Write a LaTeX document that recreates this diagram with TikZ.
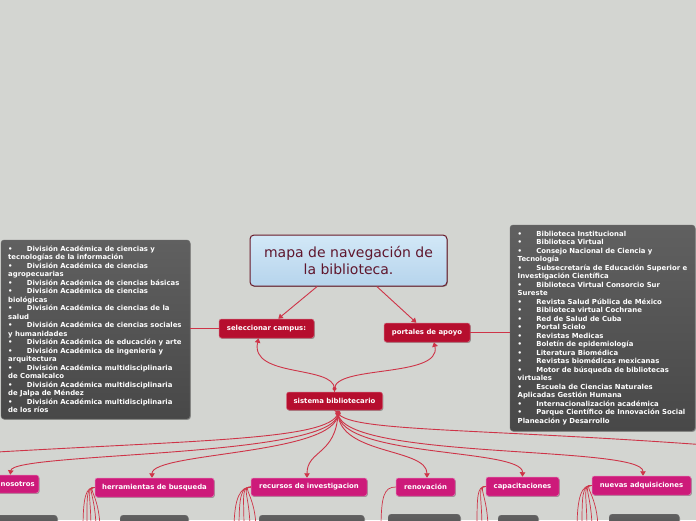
\documentclass[tikz,border=0pt]{standalone}
\usepackage{fontspec}
\setmainfont{DejaVu Sans}
\usetikzlibrary{arrows.meta,shadows,calc}
\definecolor{bgc}{RGB}{211,213,209}
\definecolor{crim}{RGB}{182,14,46}
\definecolor{magc}{RGB}{205,26,122}
\definecolor{linkc}{RGB}{206,52,72}
\definecolor{darktop}{RGB}{96,96,96}
\definecolor{darkbot}{RGB}{72,72,72}
\definecolor{tittop}{RGB}{210,232,247}
\definecolor{titbot}{RGB}{182,212,236}
\definecolor{titline}{RGB}{105,25,40}
\definecolor{tittext}{RGB}{95,22,45}
\newcommand{\mybul}{\makebox[18.7pt][l]{•}}
\tikzset{
  shad/.style={drop shadow={shadow xshift=0.8pt, shadow yshift=-0.9pt, opacity=0.3, fill=black}},
  lab/.style={shad, rounded corners=2.5pt, text=white, font=\fontsize{6.9}{8}\selectfont\bfseries, inner sep=0pt},
  crimbox/.style={lab, fill=crim, draw=crim!65!white, line width=0.5pt},
  magbox/.style={lab, fill=magc, draw=magc!60!white, line width=0.5pt},
  darkbox/.style={shad, rounded corners=3pt, top color=darktop, bottom color=darkbot, draw=darkbot!80!white, line width=0.4pt},
  boxtext/.style={inner sep=0pt, align=left, text=white, font=\fontsize{6.9}{8.5}\selectfont\bfseries},
  conn/.style={draw=linkc, line width=0.9pt},
  tip/.style={-{Triangle[width=5.5pt,length=4.5pt]}},
  titlebox/.style={shad, rounded corners=4pt, top color=tittop, bottom color=titbot, draw=titline, line width=1pt, text=tittext, align=center, font=\fontsize{14}{17}\selectfont}
}
\begin{document}
\begin{tikzpicture}[x=1pt,y=-1pt]
\fill[bgc] (0,0) rectangle (696,520);
\useasboundingbox (0,0) rectangle (696,520);
\clip (0,0) rectangle (696,520);

% bottom fragments of dark boxes
\node[darkbox, anchor=north west, minimum width=67pt, minimum height=30pt] (bb1) at (-10,515) {};
\node[darkbox, anchor=north west, minimum width=68pt, minimum height=30pt] (bb2) at (120,515) {};
\node[darkbox, anchor=north west, minimum width=105pt, minimum height=30pt] (bb3) at (259,515) {};
\node[darkbox, anchor=north west, minimum width=72pt, minimum height=30pt] (bb4) at (388,514) {};
\node[darkbox, anchor=north west, minimum width=40pt, minimum height=30pt] (bb5) at (498,515) {};
\node[darkbox, anchor=north west, minimum width=70pt, minimum height=30pt] (bb6) at (609,514) {};

% main nodes
\node[titlebox, minimum width=197pt, minimum height=51pt] (title) at (348.5,260.5) {mapa de navegación de\\la biblioteca.};
\node[crimbox, minimum width=95pt, minimum height=19pt] (sel) at (266.5,328.5) {seleccionar campus:};
\node[crimbox, minimum width=86pt, minimum height=19pt] (port) at (427,332.5) {portales de apoyo};
\node[crimbox, minimum width=96pt, minimum height=18pt] (sis) at (334.5,401) {sistema bibliotecario};

\node[magbox, anchor=east, inner xsep=4pt, minimum height=18pt] (nos) at (39,484) {\hspace{1pt}nosotros};
\node[magbox, minimum width=119pt, minimum height=19pt] (herr) at (154.5,487.5) {herramientas de busqueda};
\node[magbox, minimum width=116pt, minimum height=18pt] (rec) at (309,487) {recursos de investigacion};
\node[magbox, minimum width=59pt, minimum height=18pt] (ren) at (425.5,487) {renovación};
\node[magbox, minimum width=73pt, minimum height=19pt] (cap) at (522.5,486.5) {capacitaciones};
\node[magbox, minimum width=99pt, minimum height=19pt] (nue) at (641.5,485.5) {nuevas adquisiciones};

% dark list boxes
\node[darkbox, minimum width=189pt, minimum height=179pt] (lbox) at (95.5,329.5) {};
\node[boxtext, anchor=west] (ltext) at (8,329.5) {%
\mybul División Académica de ciencias y\\
tecnologías de la información\\
\mybul División Académica de ciencias\\
agropecuarias\\
\mybul División Académica de ciencias básicas\\
\mybul División Académica de ciencias\\
biológicas\\
\mybul División Académica de ciencias de la\\
salud\\
\mybul División Académica de ciencias sociales\\
y humanidades\\
\mybul División Académica de educación y arte\\
\mybul División Académica de ingeniería y\\
arquitectura\\
\mybul División Académica multidisciplinaria\\
de Comalcalco\\
\mybul División Académica multidisciplinaria\\
de Jalpa de Méndez\\
\mybul División Académica multidisciplinaria\\
de los ríos};

\node[darkbox, minimum width=185pt, minimum height=206pt] (rbox) at (602.5,328) {};
\node[boxtext, anchor=west] (rtext) at (517.5,328) {%
\mybul Biblioteca Institucional\\
\mybul Biblioteca Virtual\\
\mybul Consejo Nacional de Ciencia y\\
Tecnología\\
\mybul Subsecretaría de Educación Superior e\\
Investigación Científica\\
\mybul Biblioteca Virtual Consorcio Sur\\
Sureste\\
\mybul Revista Salud Pública de México\\
\mybul Biblioteca virtual Cochrane\\
\mybul Red de Salud de Cuba\\
\mybul Portal Scielo\\
\mybul Revistas Medicas\\
\mybul Boletín de epidemiología\\
\mybul Literatura Biomédica\\
\mybul Revistas biomédicas mexicanas\\
\mybul Motor de búsqueda de bibliotecas\\
virtuales\\
\mybul Escuela de Ciencias Naturales\\
Aplicadas Gestión Humana\\
\mybul Internacionalización académica\\
\mybul Parque Científico de Innovación Social\\
Planeación y Desarrollo};

% connectors
\draw[conn, line width=0.7pt] (sel.west) -- (sel.west -| lbox.east);
\draw[conn, line width=0.7pt] (port.east) -- (port.east -| rbox.west);
\draw[conn, tip] (title) -- (sel);
\draw[conn, tip] (title) -- (port);

\coordinate (sisT) at ($(sis.north)+(0,-3)$);
\coordinate (fan) at ($(sis.south)+(3.5,3)$);
\draw[conn] (sis.north) -- (sisT);
\draw[conn] (sis.south) -- (fan);
\draw[conn, tip] (sisT) .. controls (334,365) and (250,378) .. ([xshift=-8pt]sel.south);
\draw[conn, tip] (sisT) .. controls (335,365) and (442,378) .. ([xshift=7pt]port.south);
\fill[linkc] (sisT) circle (2pt);

\coordinate (offL) at (-20,453);
\coordinate (offR) at (720,446);
\draw[conn] (fan) .. controls (330,440) and (200,440) .. (offL);
\draw[conn] (fan) .. controls (350,432) and (480,428) .. (offR);
\draw[conn, tip] (fan) .. controls (338,458) and (13,452) .. ([xshift=-7pt]nos.north);
\draw[conn, tip] (fan) .. controls (338,455) and (152,452) .. ([xshift=-2.5pt]herr.north);
\draw[conn, tip] (fan) .. controls (336,455) and (307,450) .. ([xshift=-2pt]rec.north);
\draw[conn, tip] (fan) .. controls (340,455) and (427,448) .. ([xshift=1.5pt]ren.north);
\draw[conn, tip] (fan) .. controls (340,458) and (523,448) .. (cap.north);
\draw[conn, tip] (fan) .. controls (342,460) and (643,445) .. ([xshift=1.5pt]nue.north);
\fill[linkc] (fan) circle (2.8pt);

% child connectors going down to the lower row
\foreach \i/\x in {1/83,2/87,3/91,4/96,5/100}{
  \coordinate (hc\i) at (\x,530);
  \draw[conn, line width=0.7pt] (herr.west) .. controls (86,487) and (\x,496) .. (hc\i);
}
\foreach \i/\x in {1/234,2/239,3/244,4/250,5/256}{
  \coordinate (rc\i) at (\x,530);
  \draw[conn, line width=0.7pt] (rec.west) .. controls (241,487) and (\x,496) .. (rc\i);
}
\coordinate (nc1) at (381,530);
\draw[conn, line width=0.7pt] (ren.west) .. controls (384,487) and (381,496) .. (nc1);
\foreach \i/\x in {1/477,2/482,3/488}{
  \coordinate (cc\i) at (\x,530);
  \draw[conn, line width=0.7pt] (cap.west) .. controls (477,486) and (\x,496) .. (cc\i);
}
\foreach \i/\x in {1/577,2/582,3/587,4/592,5/598}{
  \coordinate (qc\i) at (\x,530);
  \draw[conn, line width=0.7pt] (nue.west) .. controls (582,485) and (\x,495) .. (qc\i);
}
\end{tikzpicture}
\end{document}
